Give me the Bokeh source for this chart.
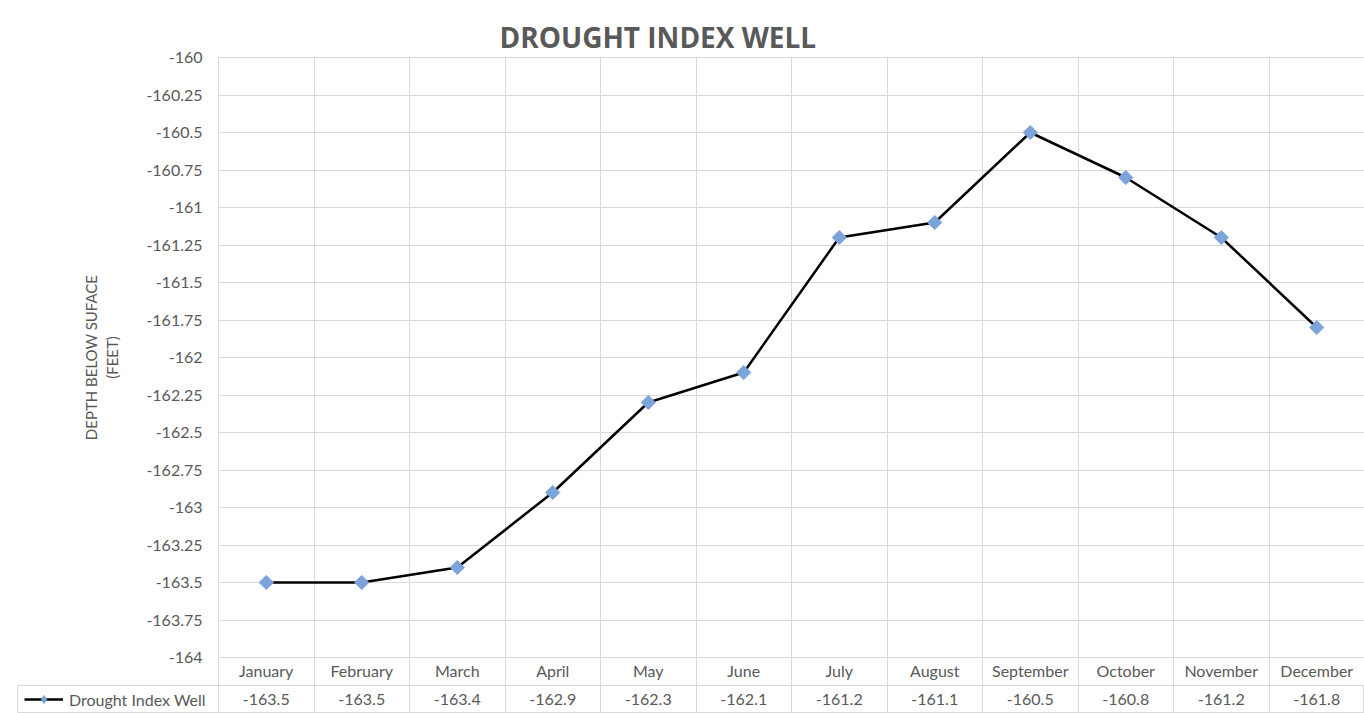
import math
from bokeh.plotting import figure
from bokeh.layouts import column
from bokeh.models import Range1d, FixedTicker, Legend, LegendItem, ColumnDataSource
from bokeh.core.properties import value
from bokeh.embed import file_html
from bokeh.resources import INLINE

# ---- data ----
months = ["January", "February", "March", "April", "May", "June", "July",
          "August", "September", "October", "November", "December"]
depth = [-163.5, -163.5, -163.4, -162.9, -162.3, -162.1, -161.2,
         -161.1, -160.5, -160.8, -161.2, -161.8]
series_name = "Drought Index Well"
title_text = "DROUGHT INDEX WELL"
y_label = "DEPTH BELOW SUFACE\n(FEET)"
yticks = [-164.0, -163.75, -163.5, -163.25, -163.0, -162.75, -162.5, -162.25,
          -162.0, -161.75, -161.5, -161.25, -161.0, -160.75, -160.5, -160.25, -160.0]
ytick_labels = ["-164", "-163.75", "-163.5", "-163.25", "-163", "-162.75", "-162.5",
                "-162.25", "-162", "-161.75", "-161.5", "-161.25", "-161", "-160.75",
                "-160.5", "-160.25", "-160"]

# ---- style / layout (pixels) ----
GRID = "#D9D9D9"
TXT = "#595959"
MARK = "#7BA4DB"
FONT = "Lato"

W, H = 1364, 713
PLOT_LEFT = 218       # x of the first category boundary
PLOT_TOP = 57         # y of -160
PLOT_H = 600          # -160 .. -164
ROW1 = 28             # month row
ROW2 = H - PLOT_TOP - PLOT_H - ROW1   # value row
CELL_LEFT = 17

n = len(months)
xs = list(range(n))
bounds = [i - 0.5 for i in range(n + 1)]
col_w = (W - PLOT_LEFT) / n
ppu = PLOT_H / (yticks[-1] - yticks[0])


def no_align(fig):
    try:
        fig.frame_align = False
    except Exception:
        pass


# ---- chart (plot area + month row as its x axis) ----
p = figure(width=W, height=PLOT_TOP + PLOT_H + ROW1, output_backend="svg",
           toolbar_location=None,
           x_range=Range1d(-0.5 - 1 / col_w, n - 0.5),
           y_range=Range1d(yticks[0] - 1 / ppu, yticks[-1] + 1 / ppu),
           min_border_left=PLOT_LEFT - 1, min_border_right=0,
           min_border_top=PLOT_TOP - 1, min_border_bottom=ROW1 - 1)
no_align(p)
p.outline_line_color = None
p.border_fill_color = "white"

p.title.text = title_text
p.title.text_font = "Open Sans"
p.title.text_font_style = "bold"
p.title.text_font_size = "28px"
p.title.text_color = TXT
p.title.align = "left"
p.title.offset = 282
p.title.standoff = 1

p.xgrid.ticker = FixedTicker(ticks=bounds[:-1])
p.xgrid.grid_line_color = GRID
p.ygrid.ticker = FixedTicker(ticks=yticks)
p.ygrid.grid_line_color = GRID

ya = p.yaxis[0]
ya.ticker = FixedTicker(ticks=yticks, minor_ticks=[])
ya.major_label_overrides = {t: s for t, s in zip(yticks, ytick_labels)}
ya.axis_line_color = None
ya.major_tick_out = 0
ya.major_tick_in = 0
ya.major_label_standoff = 15
ya.major_label_text_font = FONT
ya.major_label_text_font_size = "16px"
ya.major_label_text_color = TXT
ya.axis_label = y_label
ya.axis_label_text_font = FONT
ya.axis_label_text_font_size = "15px"
ya.axis_label_text_font_style = "normal"
ya.axis_label_text_color = TXT
ya.axis_label_standoff = 22

# month row of the data table = category axis, cell borders = minor ticks
xa = p.xaxis[0]
xa.ticker = FixedTicker(ticks=xs, minor_ticks=bounds)
xa.major_label_overrides = {i: m for i, m in zip(xs, months)}
xa.axis_line_color = None
xa.major_tick_out = 0
xa.major_tick_in = 0
xa.minor_tick_out = ROW1 - 1
xa.minor_tick_in = 0
xa.minor_tick_line_color = GRID
xa.major_label_standoff = -25
xa.major_label_text_font = FONT
xa.major_label_text_font_size = "16px"
xa.major_label_text_color = TXT

src = ColumnDataSource(dict(x=xs, y=depth))
p.line("x", "y", source=src, line_color="black", line_width=2.5)
p.scatter("x", "y", source=src, marker="square", angle=math.pi / 4, size=10,
          fill_color=MARK, line_color=MARK)

# ---- value row of the data table ----
t = figure(width=W, height=ROW2, output_backend="svg", toolbar_location=None,
           x_range=Range1d(-0.5 - (PLOT_LEFT - CELL_LEFT) / col_w, n - 0.5),
           y_range=Range1d(0, 1),
           min_border_left=CELL_LEFT, min_border_right=0,
           min_border_top=0, min_border_bottom=0)
no_align(t)
t.axis.visible = False
t.outline_line_color = GRID
t.border_fill_color = "white"
t.xgrid.ticker = FixedTicker(ticks=bounds[:-1])
t.xgrid.grid_line_color = GRID
t.ygrid.grid_line_color = None

vals = [f"{v:g}" for v in depth]
t.text(x=xs, y=[0.5] * n, text=vals, text_align="center", text_baseline="middle",
       text_font=value(FONT), text_font_size="16px", text_color=TXT)

# the series itself lies outside this row's range; it only feeds the legend key
k_line = t.line("x", "y", source=src, line_color="black", line_width=2.5)
k_mark = t.scatter("x", "y", source=src, marker="diamond", size=12,
                   fill_color=MARK, line_color=MARK)
leg = Legend(items=[LegendItem(label=series_name, renderers=[k_line, k_mark])],
             location="left", margin=7, padding=0, glyph_width=39, glyph_height=20,
             label_standoff=6, label_text_font=FONT, label_text_font_size="16px",
             label_text_color=TXT, border_line_color=None, background_fill_alpha=0)
t.add_layout(leg)

layout = column(p, t, spacing=0)
open("out.html", "w").write(file_html(layout, INLINE))
